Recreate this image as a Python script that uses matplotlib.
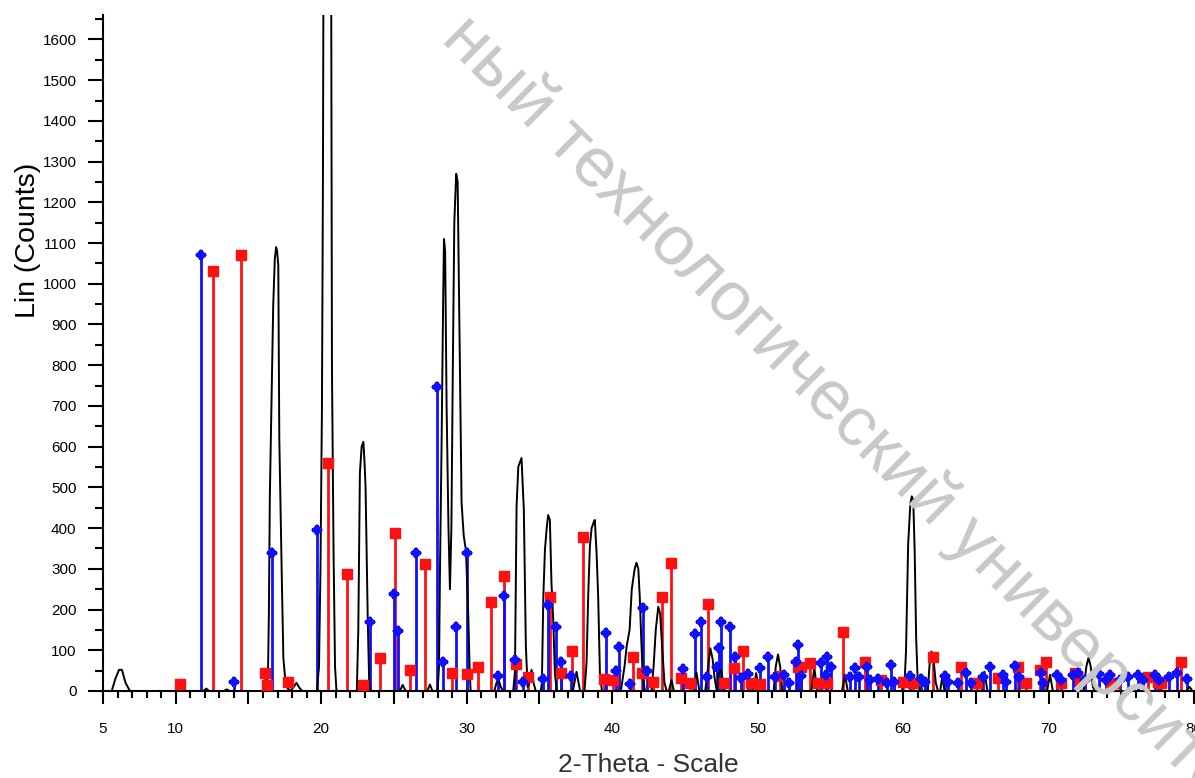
import matplotlib
matplotlib.use("Agg")
import matplotlib.pyplot as plt
from matplotlib.ticker import MultipleLocator, FuncFormatter

plt.rcParams['font.family'] = ['Liberation Sans', 'DejaVu Sans']

# measured pattern (2-theta, counts)
pattern_2theta = [5.0, 5.6, 5.85, 6.1, 6.3, 6.55, 6.85,
                  11.9, 12.1, 12.3, 13.3, 13.5, 13.7,
                  16.2, 16.35, 16.4, 16.47, 16.59, 16.7, 16.81, 16.9, 16.97, 17.05, 17.12, 17.29, 17.4, 17.52, 17.7, 17.9,
                  18.1, 18.3, 18.5, 18.7,
                  19.7, 19.85, 19.95, 20.05, 20.12, 20.2, 20.65, 20.74, 20.85, 20.95, 21.05,
                  22.45, 22.55, 22.66, 22.78, 22.9, 22.98, 23.05, 23.12, 23.2, 23.3, 23.4,
                  25.4, 25.6, 25.8, 27.3, 27.47, 27.65,
                  28.0, 28.1, 28.16, 28.28, 28.38, 28.44, 28.52, 28.62, 28.75, 28.85, 28.95, 29.05, 29.15, 29.28,
                  29.38, 29.5, 29.65, 29.8, 29.95, 30.1, 30.2, 30.27,
                  31.9, 32.05, 32.2, 32.35, 32.5,
                  33.2, 33.32, 33.43, 33.55, 33.77, 33.93, 34.07, 34.19, 34.3, 34.46, 34.6, 34.75,
                  35.1, 35.17, 35.27, 35.38, 35.5, 35.6, 35.72, 35.83, 35.95, 36.07, 36.2,
                  37.3, 37.55, 37.8,
                  38.1, 38.24, 38.36, 38.47, 38.59, 38.75, 38.81, 38.93, 39.04, 39.16, 39.3,
                  40.6, 40.85, 41.0, 41.2, 41.35, 41.55, 41.67, 41.8, 41.9, 42.0, 42.1, 42.25,
                  42.7, 42.85, 43.0, 43.17, 43.3, 43.45, 43.6, 43.75,
                  43.9, 44.08, 44.25, 45.6, 45.8, 46.0,
                  46.4, 46.6, 46.75, 46.9, 47.05, 47.2, 47.3, 47.4, 47.55, 47.7,
                  49.7, 49.9, 50.1, 51.1, 51.25, 51.4, 51.55, 51.7,
                  53.7, 53.9, 54.1, 55.8, 56.0, 56.2,
                  59.9, 60.1, 60.2, 60.35, 60.5, 60.6, 60.7, 60.8, 60.9, 61.0, 61.15,
                  61.7, 61.85, 61.95, 62.1, 62.25, 62.4, 62.55, 62.7, 62.85,
                  65.4, 65.6, 65.8, 69.9, 70.1, 70.3,
                  72.4, 72.6, 72.75, 72.9, 73.05, 73.2,
                  79.5, 79.7, 79.9, 80.0]
pattern_counts = [0, 0, 30, 52, 52, 20, 0,
                  0, 6, 0, 0, 4, 0,
                  0, 60, 180, 480, 730, 945, 1060, 1090, 1080, 1045, 620, 280, 80, 32, 5, 0,
                  10, 20, 8, 0,
                  0, 60, 300, 690, 1260, 2400, 2400, 790, 340, 60, 0,
                  0, 150, 535, 600, 612, 560, 500, 352, 175, 20, 0,
                  0, 15, 0, 0, 16, 0,
                  0, 60, 280, 620, 950, 1110, 1080, 700, 400, 250, 400, 800, 1150, 1270,
                  1250, 900, 462, 380, 346, 199, 60, 0,
                  0, 20, 27, 10, 0,
                  0, 47, 453, 551, 572, 445, 109, 10, 20, 52, 20, 0,
                  0, 20, 232, 346, 400, 432, 420, 265, 175, 40, 0,
                  0, 47, 0,
                  0, 68, 240, 355, 400, 416, 420, 339, 232, 44, 0,
                  0, 60, 110, 150, 250, 300, 315, 300, 230, 130, 40, 0,
                  0, 60, 150, 207, 190, 100, 20, 0,
                  0, 27, 0, 0, 45, 0,
                  0, 60, 105, 80, 30, 0, 40, 65, 40, 0,
                  0, 44, 0, 0, 60, 90, 60, 0,
                  0, 57, 0, 0, 40, 0,
                  0, 20, 95, 360, 460, 478, 470, 340, 130, 30, 0,
                  0, 80, 97, 75, 20, 0, 0, 35, 0,
                  0, 47, 0, 0, 40, 0,
                  0, 60, 82, 60, 10, 0,
                  0, 10, 0, 0]

# reference phase 1 (red squares)
red_2theta = [10.3, 12.56, 14.48, 16.13, 16.25, 17.74, 20.49, 21.75, 22.89, 24.04, 25.07,
              26.1, 27.13, 28.96, 29.99, 30.79, 31.67, 32.56, 33.36, 34.19, 35.72, 36.48,
              37.25, 37.97, 39.43, 40.07, 41.45, 42.07, 42.82, 43.44, 44.08, 44.72, 45.34,
              46.6, 47.68, 48.39, 49.0, 49.58, 50.15, 51.53, 52.79, 53.0, 53.6, 54.16,
              54.74, 55.84, 57.37, 58.5, 59.98, 60.67, 62.07, 64.0, 65.05, 66.53, 67.91,
              68.48, 69.4, 69.86, 70.89, 71.8, 72.15, 74.3, 74.55, 76.84, 77.5, 77.76, 79.14]
red_counts = [17, 1032, 1071, 44, 15, 21, 560, 288, 15, 82, 389,
              52, 312, 44, 42, 60, 219, 283, 66, 34, 232, 45,
              99, 379, 30, 27, 84, 44, 23, 231, 315, 32, 20,
              213, 20, 56, 98, 20, 17, 37, 60, 60, 68, 20,
              20, 145, 72, 27, 21, 20, 84, 60, 20, 32, 60,
              20, 52, 72, 20, 44, 27, 20, 20, 34, 22, 20, 72]

# reference phase 2 (blue)
blue_2theta = [11.74, 14.03, 16.59, 19.69, 23.35, 25.02, 25.3, 26.49, 27.96, 28.39,
               29.26, 29.99, 32.17, 32.58, 33.32, 33.89, 35.22, 35.56, 36.11, 36.48,
               37.14, 39.57, 40.26, 40.46, 41.22, 42.13, 42.4, 44.88, 45.69, 46.1,
               46.53, 47.18, 47.36, 47.47, 48.09, 48.48, 48.89, 49.35, 50.15, 50.72,
               51.19, 51.83, 52.15, 52.67, 52.79, 53.0, 54.39, 54.7, 54.78, 55.08,
               56.35, 56.69, 57.0, 57.49, 57.7, 58.3, 58.9, 59.2, 59.4, 60.46,
               61.2, 61.5, 62.9, 63.1, 63.8, 64.36, 64.7, 65.5, 65.96, 66.85,
               67.1, 67.68, 68.0, 69.51, 69.6, 70.6, 70.85, 71.65, 72.0, 72.5,
               73.5, 73.96, 74.2, 74.9, 75.45, 76.15, 76.5, 77.3, 77.6, 78.3,
               78.8, 79.55]
blue_counts = [1071, 21, 338, 396, 170, 238, 148, 338, 747, 72,
               156, 338, 37, 233, 76, 23, 30, 211, 156, 70,
               37, 143, 48, 107, 17, 203, 48, 53, 139, 169,
               35, 60, 105, 170, 158, 84, 31, 41, 56, 84,
               35, 39, 20, 72, 113, 37, 68, 40, 84, 60,
               35, 56, 35, 60, 27, 30, 20, 64, 23, 37,
               30, 22, 37, 23, 20, 43, 20, 35, 59, 40,
               22, 61, 35, 45, 20, 40, 27, 40, 44, 27,
               42, 27, 40, 27, 35, 40, 27, 40, 27, 35,
               45, 30]

fig = plt.figure(figsize=(11.95, 7.78), dpi=100)
ax = fig.add_axes([103 / 1195, 1 - 691 / 778, 1091 / 1195, 676 / 778])

ax.plot(pattern_2theta, pattern_counts, color='black', lw=1.4, zorder=3)

red = '#ff1010'
blue = '#1010ff'
ax.vlines(red_2theta, 0, red_counts, color=red, lw=2, zorder=2)
ax.plot(red_2theta, red_counts, 's', color=red, ms=7, zorder=4, clip_on=False)
ax.vlines(blue_2theta, 0, blue_counts, color=blue, lw=2, zorder=2)
# blue marker: diamond with cross arms
ax.plot(blue_2theta, blue_counts, 'D', color=blue, ms=6, mew=0, zorder=4, clip_on=False)
ax.plot(blue_2theta, blue_counts, 'P', color=blue, ms=7.5, mew=0, zorder=4, clip_on=False)

ax.set_xlim(5, 80)
ax.set_ylim(0, 1660)

for s in ['top', 'right']:
    ax.spines[s].set_visible(False)
ax.spines['left'].set_linewidth(1.5)
ax.spines['bottom'].set_linewidth(1.5)

ax.xaxis.set_major_locator(MultipleLocator(5))
ax.xaxis.set_minor_locator(MultipleLocator(1))
ax.xaxis.set_major_formatter(FuncFormatter(lambda v, p: '%d' % v if (v == 5 or v % 10 == 0) else ''))
ax.yaxis.set_major_locator(MultipleLocator(100))
ax.yaxis.set_minor_locator(MultipleLocator(50))

ax.tick_params(axis='x', which='major', length=9, width=1.5, pad=13, labelsize=11)
ax.tick_params(axis='x', which='minor', length=5, width=1.5)
ax.tick_params(axis='y', which='major', length=11, width=1.5, pad=8, labelsize=11)
ax.tick_params(axis='y', which='minor', length=6, width=1.5)

ax.set_ylabel('Lin (Counts)', fontsize=20.5, va='center')
ax.yaxis.set_label_coords(-0.069, 0.667)
ax.set_xlabel('2-Theta - Scale', fontsize=19, color='#333333', va='center')
ax.xaxis.set_label_coords(0.5, -0.109)

# watermark
fig.text(0.7105, 0.4614, 'ный технологический университет', rotation=-44.7,
         rotation_mode='anchor', ha='center', va='center', fontsize=50.5,
         color='#c8c8c8', zorder=10)

fig.savefig('out.png', dpi=100)
